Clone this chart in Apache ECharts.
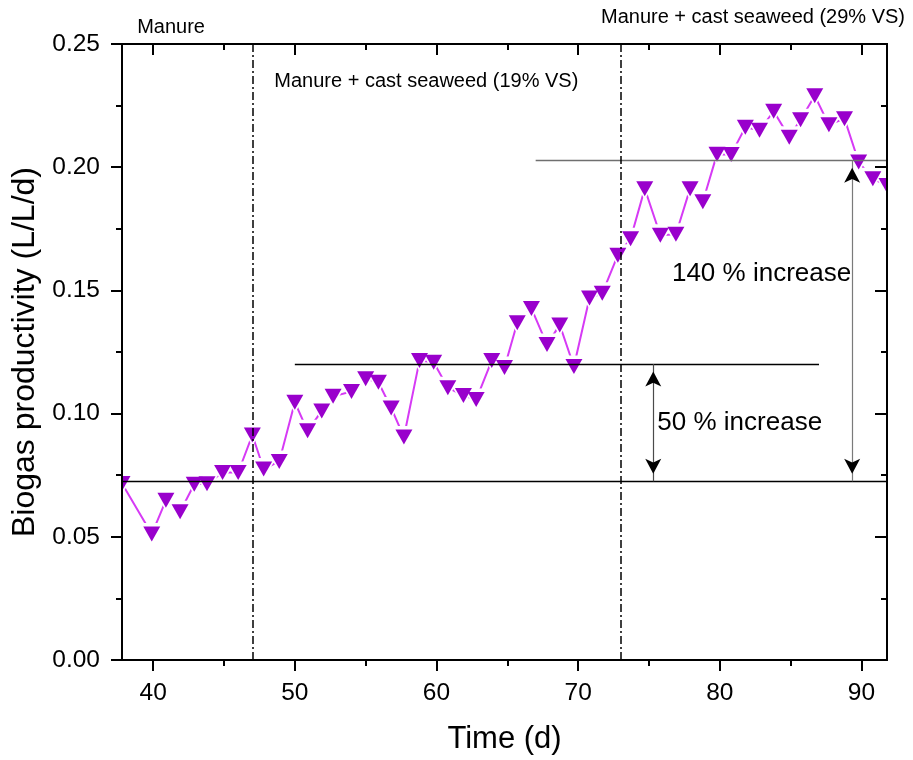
<!DOCTYPE html>
<html>
<head>
<meta charset="utf-8">
<script src="https://cdn.jsdelivr.net/npm/echarts@6/dist/echarts.min.js"></script>
<style>
  html, body { margin: 0; padding: 0; background: #ffffff; }
  #chart { width: 913px; height: 760px; }
</style>
</head>
<body>
<div id="chart"></div>
<script>
// Sampling day of each measurement
const days = [
  37.8, 39.9, 40.9, 41.9, 42.9, 43.8, 44.9, 46.0, 47.0, 47.8,
  48.9, 50.0, 50.9, 51.9, 52.7, 54.0, 55.0, 55.9, 56.8, 57.7,
  58.8, 59.8, 60.8, 61.9, 62.8, 63.9, 64.8, 65.7, 66.7, 67.8,
  68.7, 69.7, 70.8, 71.7, 72.8, 73.7, 74.7, 75.8, 76.9, 77.9,
  78.8, 79.8, 80.8, 81.8, 82.8, 83.8, 84.9, 85.7, 86.7, 87.7,
  88.8, 89.8, 90.8, 91.8
];

// Biogas productivity (L/L/d) measured on those days
const productivity = [
  0.0716, 0.0511, 0.0648, 0.0602, 0.0713, 0.0715, 0.0761, 0.0761, 0.0913, 0.0775,
  0.0806, 0.1046, 0.0930, 0.1011, 0.1070, 0.1090, 0.1141, 0.1127, 0.1023, 0.0905,
  0.1215, 0.1208, 0.1105, 0.1073, 0.1057, 0.1215, 0.1187, 0.1369, 0.1427, 0.1280,
  0.1360, 0.1191, 0.1469, 0.1488, 0.1643, 0.1710, 0.1913, 0.1724, 0.1728, 0.1913,
  0.1860, 0.2053, 0.2052, 0.2162, 0.2150, 0.2227, 0.2122, 0.2193, 0.2290, 0.2172,
  0.2197, 0.2021, 0.1953, 0.1926
];

// Axis ranges and tick positions
const dayRange = [37.8, 91.8];
const xMajorTicks = [40, 50, 60, 70, 80, 90];
const xMinorTicks = [45, 55, 65, 75, 85];
const yRange = [0, 0.25];
const yStep = 0.05;

// Feed changes (days) and mean productivity levels of each phase
const phaseStarts = [47, 73];
const manureLevel = 0.0725;
const seaweed19Level = 0.1201;
const seaweed29Level = 0.2028;

// Days at which the increase arrows stand
const arrowDays = [75.3, 89.34];

// Text notes: [day, level, text, font size] (level is the vertical middle of the text)
const noteTexts = [
  [38.87, 0.2568, 'Manure', 20],
  [48.55, 0.2346, 'Manure + cast seaweed (19% VS)', 20],
  [71.61, 0.2606, 'Manure + cast seaweed (29% VS)', 20],
  [76.62, 0.1568, '140 % increase', 26],
  [75.59, 0.0962, '50 % increase', 26]
];

const FONT = '"Liberation Sans", Arial, Helvetica, sans-serif';
const markerColor = '#9900CC';
const lineColor = '#D63AF5';

const points = days.map((d, i) => [d, productivity[i]]);

function downTriangle(w, h, color) {
  return function (params, api) {
    const p = api.coord([api.value(0), api.value(1)]);
    return {
      type: 'polygon',
      shape: { points: [[p[0] - w / 2, p[1] - h / 2], [p[0] + w / 2, p[1] - h / 2], [p[0], p[1] + h / 2]] },
      style: { fill: color }
    };
  };
}

const axisLine = { show: true, onZero: false, lineStyle: { color: '#000', width: 2 } };

function xAxisDef(position, ticks, len, inside, withLabels, name) {
  return {
    type: 'value', position: position, gridIndex: 0,
    min: dayRange[0], max: dayRange[1], z: 20,
    axisLine: axisLine,
    axisTick: { show: true, inside: inside, length: len, customValues: ticks, lineStyle: { color: '#000', width: 2 } },
    axisLabel: withLabels
      ? { show: true, customValues: ticks, margin: 21, color: '#000', fontSize: 24.5, fontFamily: FONT }
      : { show: false },
    splitLine: { show: false },
    name: name || '',
    nameLocation: 'middle', nameGap: 64,
    nameTextStyle: { color: '#000', fontSize: 31, fontFamily: FONT }
  };
}

const option = {
  animation: false,
  backgroundColor: '#ffffff',
  grid: { left: 122, right: 26, top: 44, bottom: 98, containLabel: false },
  xAxis: [
    xAxisDef('bottom', xMajorTicks, 11, false, true, 'Time (d)'),
    xAxisDef('bottom', xMinorTicks, 6, false, false),
    xAxisDef('top', xMajorTicks, 11, true, false),
    xAxisDef('top', xMinorTicks, 6, true, false)
  ],
  yAxis: [
    {
      type: 'value', position: 'left', min: yRange[0], max: yRange[1], interval: yStep, z: 20,
      axisLine: axisLine,
      axisTick: { show: true, inside: false, length: 11, lineStyle: { color: '#000', width: 2 } },
      minorTick: { show: true, splitNumber: 2, length: 6, lineStyle: { color: '#000', width: 2 } },
      axisLabel: { color: '#000', fontSize: 24.5, fontFamily: FONT, margin: 22, formatter: v => v.toFixed(2) },
      splitLine: { show: false },
      name: 'Biogas productivity (L/L/d)', nameLocation: 'middle', nameGap: 76,
      nameTextStyle: { color: '#000', fontSize: 32, fontFamily: FONT }
    },
    {
      type: 'value', position: 'right', min: yRange[0], max: yRange[1], interval: yStep, z: 20,
      axisLine: axisLine,
      axisTick: { show: true, inside: true, length: 12, lineStyle: { color: '#000', width: 2 } },
      minorTick: { show: true, splitNumber: 2, length: 6, lineStyle: { color: '#000', width: 2 } },
      axisLabel: { show: false },
      splitLine: { show: false }
    }
  ],
  series: [
    {
      name: 'trend', type: 'line', xAxisIndex: 0, yAxisIndex: 0,
      data: points, showSymbol: false, symbol: 'none', clip: true, z: 2,
      lineStyle: { color: lineColor, width: 2 },
      silent: true,
      markLine: {
        silent: true, symbol: 'none', z: 10, animation: false,
        label: { show: false },
        emphasis: { disabled: true },
        data: [
          [{ coord: [dayRange[0], manureLevel], lineStyle: { color: '#000', width: 1.3, type: 'solid' } },
           { coord: [dayRange[1], manureLevel] }],
          [{ coord: [50, seaweed19Level], lineStyle: { color: '#000', width: 1.3, type: 'solid' } },
           { coord: [87, seaweed19Level] }],
          [{ coord: [67, seaweed29Level], lineStyle: { color: '#6f6f6f', width: 1.3, type: 'solid' } },
           { coord: [dayRange[1], seaweed29Level] }],
          [{ coord: [phaseStarts[0], yRange[0]], lineStyle: { color: '#000', width: 1.5, type: [8, 3, 2, 3] } },
           { coord: [phaseStarts[0], yRange[1]] }],
          [{ coord: [phaseStarts[1], yRange[0]], lineStyle: { color: '#000', width: 1.5, type: [8, 3, 2, 3] } },
           { coord: [phaseStarts[1], yRange[1]] }],
          [{ coord: [arrowDays[0], manureLevel], lineStyle: { color: '#4a4a4a', width: 1.2, type: 'solid' } },
           { coord: [arrowDays[0], seaweed19Level] }],
          [{ coord: [arrowDays[1], manureLevel], lineStyle: { color: '#7a7a7a', width: 1.2, type: 'solid' } },
           { coord: [arrowDays[1], seaweed29Level] }]
        ]
      },
      markPoint: {
        silent: true, z: 11, animation: false,
        symbol: 'arrow', symbolSize: [12, 15],
        itemStyle: { color: '#000' },
        label: { show: false },
        emphasis: { disabled: true },
        data: [
          { coord: [arrowDays[0], seaweed19Level], symbolRotate: 0, symbolOffset: [0, 7.5] },
          { coord: [arrowDays[0], manureLevel], symbolRotate: 180, symbolOffset: [0, -7.5] },
          { coord: [arrowDays[1], seaweed29Level], symbolRotate: 0, symbolOffset: [0, 7.5] },
          { coord: [arrowDays[1], manureLevel], symbolRotate: 180, symbolOffset: [0, -7.5] }
        ]
      }
    },
    {
      // white gap around each symbol, so the connecting line stops short of it
      name: 'gap', type: 'custom', xAxisIndex: 0, yAxisIndex: 0, z: 3, clip: true, silent: true,
      data: points, encode: { x: 0, y: 1 },
      renderItem: downTriangle(25, 22, '#ffffff')
    },
    {
      name: 'productivity', type: 'custom', xAxisIndex: 0, yAxisIndex: 0, z: 4, clip: true, silent: true,
      data: points, encode: { x: 0, y: 1 },
      renderItem: downTriangle(17, 15, markerColor)
    }
  ]
};

const chart = echarts.init(document.getElementById('chart'), null, { renderer: 'canvas' });
chart.setOption(option);

// Text notes placed in data coordinates
const notes = noteTexts.map(([d, lvl, text, size]) => {
  const p = chart.convertToPixel({ xAxisIndex: 0, yAxisIndex: 0 }, [d, lvl]);
  return {
    type: 'text', x: p[0], y: p[1], z: 30, silent: true,
    style: {
      text: text, fill: '#000', fontSize: size, fontFamily: FONT,
      align: 'left', verticalAlign: 'middle',
      textAlign: 'left', textVerticalAlign: 'middle'
    }
  };
});
chart.setOption({ graphic: notes });
</script>
</body>
</html>
